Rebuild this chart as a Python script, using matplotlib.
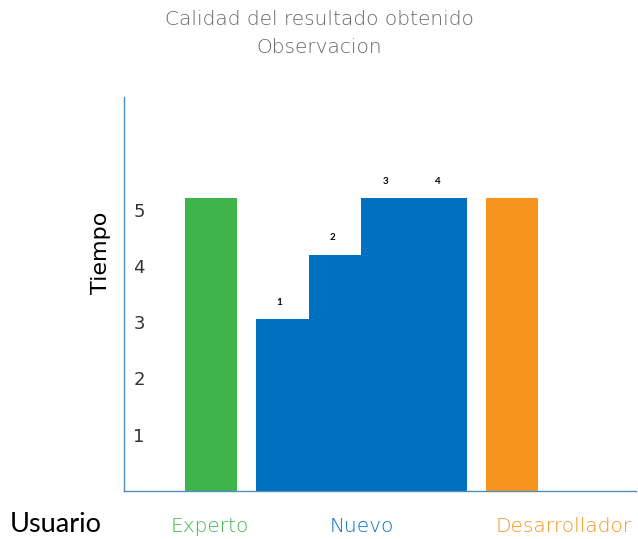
import matplotlib.pyplot as plt

# Datos del grafico
categorias = ["Experto", "Nuevo", "Desarrollador"]
tiempo_experto = 5.2
tiempo_nuevo = [3.05, 4.2, 5.2, 5.2]
etiquetas_nuevo = ["1", "2", "3", "4"]
tiempo_desarrollador = 5.2
ticks_y = [1, 2, 3, 4, 5]

verde = "#3db54a"
azul = "#0070c0"
naranja = "#f7941d"
eje = "#4f8fbf"

plt.rcParams["font.family"] = ["DejaVu Sans"]

fig = plt.figure(figsize=(6.38, 5.39), dpi=100)
ax = fig.add_axes([0.194, 0.089, 0.803, 0.731])

pos_nuevo = [3, 4, 5, 6]
ax.bar(1.65, tiempo_experto, width=1.0, color=verde)
ax.bar(pos_nuevo, tiempo_nuevo, width=1.0, color=azul)
ax.bar(7.35, tiempo_desarrollador, width=1.0, color=naranja)

for x, v, t in zip(pos_nuevo, tiempo_nuevo, etiquetas_nuevo):
    ax.annotate(t, (x, v), xytext=(-2, 9), textcoords="offset points",
                ha="center", va="bottom", fontsize=7, fontweight="bold",
                family="Lato")

ax.set_xlim(0, 9.7)
ax.set_ylim(0, 7)
ax.set_xticks([])
ax.set_yticks(ticks_y)
ax.set_yticklabels([str(t) for t in ticks_y], ha="left", fontsize=13,
                   color="#333333")
ax.tick_params(axis="y", length=0, pad=-7)

for s in ["top", "right"]:
    ax.spines[s].set_visible(False)
for s in ["left", "bottom"]:
    ax.spines[s].set_color(eje)
    ax.spines[s].set_linewidth(1.0)

fig.text(0.158, 0.531, "Tiempo", rotation=90, ha="center", va="center",
         fontsize=16)

fig.text(0.50, 0.963, "Calidad del resultado obtenido", ha="center", va="center",
         fontsize=14.5, color="#666666", fontweight="light")
fig.text(0.50, 0.911, "Observacion", ha="center", va="center",
         fontsize=14.5, color="#666666", fontweight="light")

fig.text(0.016, 0.026, "Usuario", ha="left", va="center", fontsize=19.5,
         color="black", family="Lato")
fig.text(0.329, 0.024, categorias[0], ha="center", va="center", fontsize=14.5,
         color=verde, fontweight="light")
fig.text(0.567, 0.024, categorias[1], ha="center", va="center", fontsize=14.5,
         color=azul, fontweight="light")
fig.text(0.884, 0.024, categorias[2], ha="center", va="center", fontsize=14.5,
         color=naranja, fontweight="light")

fig.savefig("out.png", dpi=100)
